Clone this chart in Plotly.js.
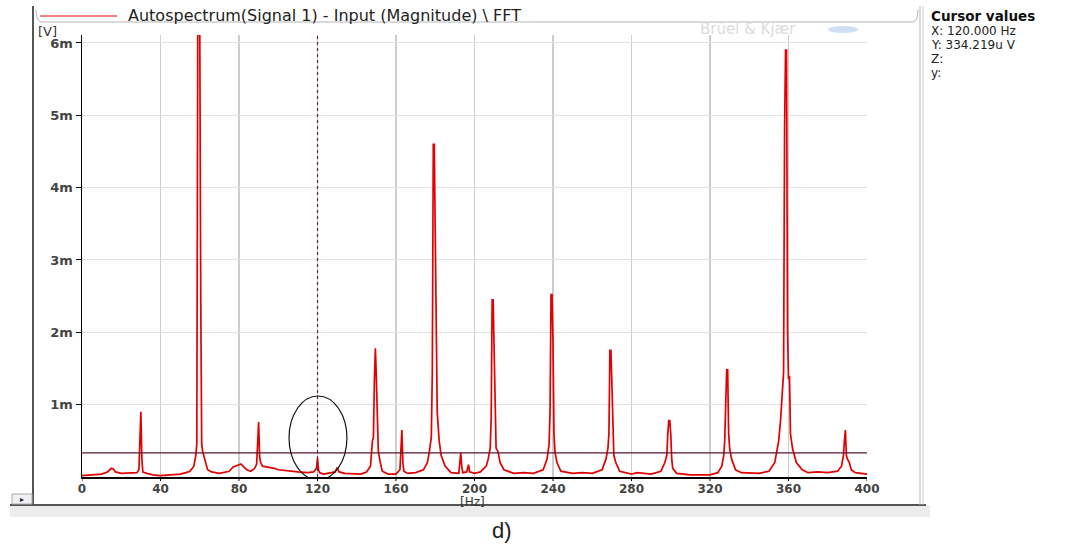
<!DOCTYPE html>
<html>
<head>
<meta charset="utf-8">
<script src="https://cdn.plot.ly/plotly-3.0.1.min.js"></script>
<style>html,body{margin:0;padding:0;background:#fff;}#chart{width:1089px;height:544px;}</style>
</head>
<body>
<div id="chart"></div>
<script>
// Frequency bins [Hz]
const freqHz = [0,5,10,13,15,16,17,20,25,28,29,29.5,30,30.5,31,33,36,40,45,50,53,55,57,58,58.5,59,59.5,60,60.5,61,61.5,62,63,64,66,70,75,77,79,81,82,84,86,88,89,89.5,90,90.5,91,92,95,98,100,105,110,115,118,119.5,120,120.5,121,123,126,129,130,131,134,138,142,145,147,148,148.5,149,149.5,150,150.5,151,152,153,156,160,162,162.5,163,163.5,164,166,170,174,176,177,178,178.5,179,179.5,180,180.5,181,182,183,185,188,192,193,193.5,194,196,197,197.5,200,203,206,207,208,208.5,209,209.5,210,210.5,211,212,213,215,220,225,230,235,237,238,238.5,239,239.5,240,240.5,241,242,244,250,255,260,265,267,268,268.5,269,269.5,270,270.5,271,272,274,280,283,290,295,297,298,298.5,299,299.5,300,300.5,301,303,310,320,324,326,327,327.5,328,328.5,329,329.5,330,331,333,336,345,350,353,355,356,357,357.5,358,358.5,359,359.5,360,360.5,361,362,364,367,370,375,380,385,387,388,388.5,389,389.5,390,391,392,394,400];
// Magnitude [mV]
const magmV = [0.02,0.03,0.04,0.07,0.12,0.11,0.07,0.05,0.05,0.06,0.1,0.68,0.9,0.25,0.07,0.05,0.03,0.02,0.03,0.04,0.06,0.08,0.15,0.3,0.45,6.3,6.3,6.3,2.52,0.45,0.35,0.3,0.2,0.1,0.07,0.05,0.08,0.14,0.16,0.18,0.15,0.1,0.08,0.12,0.18,0.58,0.76,0.28,0.2,0.15,0.14,0.12,0.1,0.08,0.07,0.06,0.07,0.12,0.26,0.1,0.06,0.04,0.05,0.07,0.13,0.07,0.05,0.04,0.04,0.07,0.15,0.5,0.55,1.35,1.78,1.35,0.6,0.35,0.2,0.08,0.04,0.04,0.1,0.4,0.65,0.2,0.08,0.05,0.06,0.1,0.2,0.35,0.55,1.45,4.6,4.6,3.4,1.45,0.9,0.5,0.3,0.15,0.06,0.05,0.33,0.15,0.06,0.07,0.17,0.07,0.05,0.07,0.15,0.25,0.4,0.8,2.45,2.45,1.8,0.7,0.4,0.35,0.2,0.1,0.05,0.06,0.05,0.1,0.25,0.45,0.9,2.52,2.52,1.87,0.6,0.35,0.2,0.08,0.05,0.06,0.05,0.1,0.25,0.4,0.6,1.75,1.75,1.3,0.55,0.3,0.2,0.08,0.04,0.06,0.04,0.08,0.2,0.3,0.6,0.78,0.78,0.6,0.25,0.12,0.05,0.03,0.03,0.06,0.15,0.3,0.5,1.2,1.48,1.48,0.6,0.4,0.25,0.1,0.06,0.05,0.08,0.2,0.5,0.8,1.2,1.45,4.8,5.9,5.9,2.05,1.35,1.4,0.6,0.4,0.2,0.1,0.06,0.07,0.06,0.08,0.15,0.3,0.5,0.65,0.3,0.25,0.2,0.1,0.06,0.04];

const xTicks = [0,40,80,120,160,200,240,280,320,360,400];
const yTicks = [1,2,3,4,5,6];
const yTickText = ['1m','2m','3m','4m','5m','6m'];
const cursorX = 120;        // Hz
const cursorY = 0.334219;   // mV
const seriesName = 'Autospectrum(Signal 1) - Input (Magnitude) \\ FFT';
const cursorLines = ['X: 120.000 Hz','Y: 334.219u V','Z:','y:'];

// pixel -> paper helpers (plot area: x 82..867, y 35..477)
const L=82, R=867, T=35, B=477;
const px = v => (v-L)/(R-L);
const py = v => (B-v)/(B-T);

const red = 'rgb(226,0,0)';
const FONT = 'DejaVu Sans, Verdana, sans-serif';

const trace = {
  x: freqHz, y: magmV, type:'scatter', mode:'lines',
  line:{color:red, width:1.7}, hoverinfo:'skip', showlegend:false
};

const shapes = [
  {type:'line', xref:'paper', yref:'paper', x0:px(33), x1:px(33), y0:py(6), y1:py(505), line:{color:'#555', width:2}},
  {type:'rect', xref:'paper', yref:'paper', x0:px(10), x1:px(930), y0:py(505), y1:py(517), fillcolor:'#ececec', line:{width:0}},
  {type:'line', xref:'paper', yref:'paper', x0:px(10), x1:px(926), y0:py(505), y1:py(505), line:{color:'#555', width:2}},
  {type:'rect', xref:'paper', yref:'paper', x0:px(12), x1:px(32), y0:py(494), y1:py(504), fillcolor:'#f0f0f0', line:{color:'#aaa', width:1}},
  {type:'line', xref:'paper', yref:'paper', x0:px(920), x1:px(920), y0:py(6), y1:py(505), line:{color:'#bbb', width:1}},
  {type:'line', xref:'paper', yref:'paper', x0:px(923), x1:px(923), y0:py(6), y1:py(505), line:{color:'#ccc', width:1}},
  {type:'path', xref:'paper', yref:'paper',
   path:`M ${px(36)} ${py(10)} Q ${px(36)} ${py(22)} ${px(42)} ${py(22)} L ${px(912)} ${py(22)} Q ${px(918)} ${py(22)} ${px(918)} ${py(10)}`,
   line:{color:'#b5b5b5', width:1}},
  {type:'line', xref:'paper', yref:'paper', x0:px(40), x1:px(117), y0:py(16), y1:py(16), line:{color:red, width:1}},
  {type:'circle', xref:'paper', yref:'paper', x0:px(828), x1:px(858), y0:py(26), y1:py(33), fillcolor:'#cfe0f4', line:{width:0}},
  {type:'line', xref:'x', yref:'y', x0:0, x1:400, y0:cursorY, y1:cursorY, line:{color:'#5a1535', width:1.2}},
  {type:'line', xref:'x', yref:'paper', x0:cursorX, x1:cursorX, y0:0, y1:1, line:{color:'#6a2050', width:1.2, dash:'dot'}},
  {type:'circle', xref:'x', yref:'y', x0:105.5, x1:135, y0:-0.04, y1:1.12, line:{color:'#111', width:1.2}}
];
// x-axis tick marks (short, pointing down), placed through the x scale
xTicks.forEach(v=>{
  shapes.push({type:'line', xref:'x', yref:'paper', x0:v, x1:v, y0:0, y1:py(481), line:{color:'#000', width:1}});
});

const annotations = [
  {xref:'paper', yref:'paper', x:px(126), y:py(16), xanchor:'left', yanchor:'middle', text:seriesName, showarrow:false, font:{family:FONT, size:16, color:'#222'}},
  {xref:'paper', yref:'paper', x:px(36), y:py(31), xanchor:'left', yanchor:'middle', text:'[V]', showarrow:false, font:{family:FONT, size:13, color:'#333'}},
  {xref:'paper', yref:'paper', x:px(472), y:py(502), xanchor:'center', yanchor:'middle', text:'[Hz]', showarrow:false, font:{family:FONT, size:12, color:'#333'}},
  {xref:'paper', yref:'paper', x:px(748), y:py(29), xanchor:'center', yanchor:'middle', text:'Brüel & Kjær', showarrow:false, font:{family:FONT, size:15, color:'#dcdcdc'}},
  {xref:'paper', yref:'paper', x:px(22), y:py(499), xanchor:'center', yanchor:'middle', text:'▸', showarrow:false, font:{family:FONT, size:8, color:'#222'}},
  {xref:'paper', yref:'paper', x:px(929), y:py(16), xanchor:'left', yanchor:'middle', text:'<b>Cursor values</b>', showarrow:false, font:{family:FONT, size:13.5, color:'#111'}},
  {xref:'paper', yref:'paper', x:px(502), y:py(530), xanchor:'center', yanchor:'middle', text:'d)', showarrow:false, font:{family:'Liberation Sans, Arial, sans-serif', size:22, color:'#222'}}
];
cursorLines.forEach((t,i)=>{
  annotations.push({xref:'paper', yref:'paper', x:px(929), y:py(31+i*14), xanchor:'left', yanchor:'middle', text:t, showarrow:false, font:{family:FONT, size:12, color:'#222'}});
});

const layout = {
  width:1089, height:544,
  margin:{l:L, r:1089-R, t:T, b:544-B, pad:0},
  paper_bgcolor:'#fff', plot_bgcolor:'#fff',
  showlegend:false,
  xaxis:{range:[0,400], tickvals:xTicks, ticks:'',
         showline:true, linecolor:'#000', linewidth:1.5, showgrid:true, gridcolor:'#cdcdcd', gridwidth:1.5,
         zeroline:false, tickfont:{family:FONT, size:12, weight:'bold', color:'#444'}, fixedrange:true},
  yaxis:{range:[0,6.11], tickvals:yTicks, ticktext:yTickText, ticks:'outside', ticklen:5, tickcolor:'#000', tickwidth:1,
         showline:true, linecolor:'#000', linewidth:1.5, showgrid:true, gridcolor:'#e2e2e2', gridwidth:1,
         zeroline:false, tickfont:{family:FONT, size:13, weight:'bold', color:'#444'}, fixedrange:true},
  shapes:shapes, annotations:annotations
};

Plotly.newPlot('chart', [trace], layout, {staticPlot:true, displayModeBar:false});
</script>
</body>
</html>
